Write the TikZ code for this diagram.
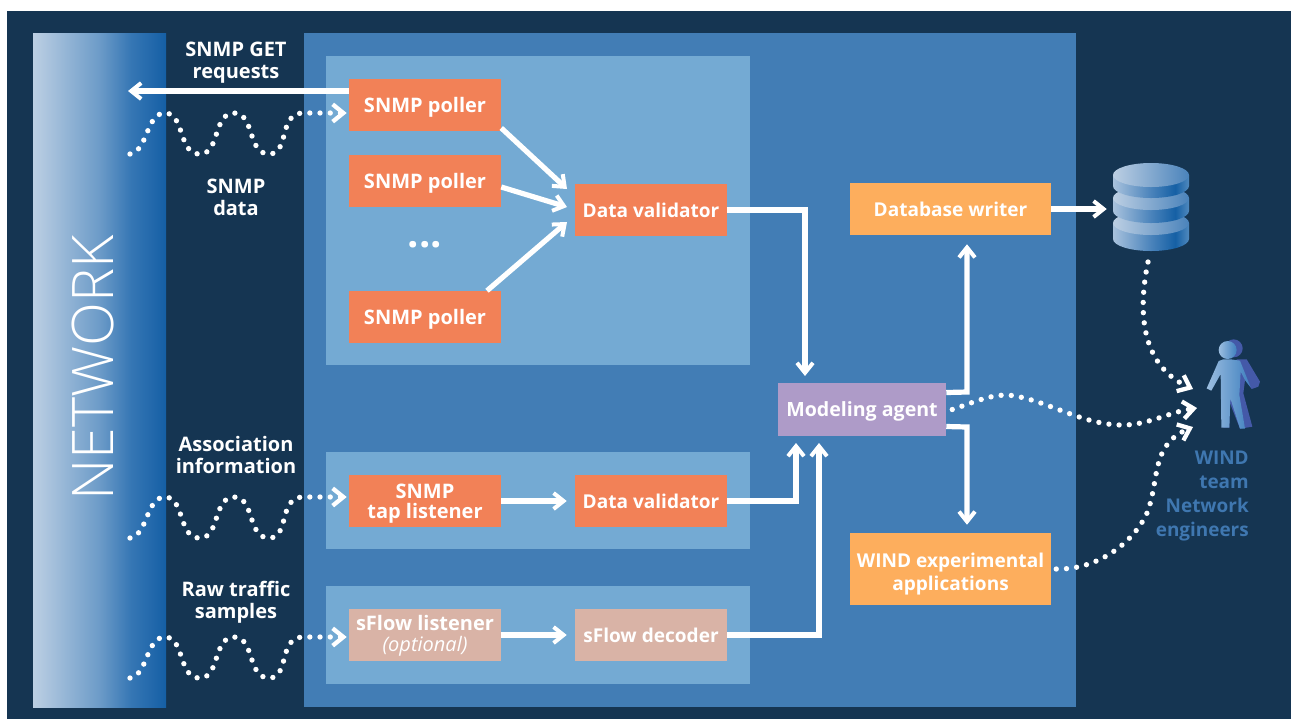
\documentclass[tikz,border=0pt]{standalone}
\usepackage{fontspec}
\setmainfont{Open Sans}
\newfontfamily\lightfont{Open Sans Light}
\usetikzlibrary{arrows.meta,calc}
\definecolor{bgdark}{HTML}{153552}
\definecolor{midblue}{HTML}{427DB5}
\definecolor{lightblue}{HTML}{74AAD3}
\definecolor{orangebox}{HTML}{F28157}
\definecolor{tanbox}{HTML}{D9B3A6}
\definecolor{purplebox}{HTML}{AE9BC8}
\definecolor{goldbox}{HTML}{FDAE5D}
\definecolor{wtext}{HTML}{3F77B0}
\definecolor{figshadow}{HTML}{4459A8}
\definecolor{netA}{HTML}{BCCFE3}
\definecolor{netB}{HTML}{6C9BC8}
\definecolor{netC}{HTML}{3576B4}
\definecolor{netD}{HTML}{155FA5}
\definecolor{dbA}{HTML}{A8C2DD}
\definecolor{dbB}{HTML}{4A83BB}
\definecolor{dbC}{HTML}{1560A5}
\definecolor{dbD}{HTML}{5089BE}
\definecolor{figA}{HTML}{9CBEE0}
\definecolor{figB}{HTML}{3F80BF}
\pgfdeclarehorizontalshading{netshade}{100bp}{color(0bp)=(netA);color(25bp)=(netA);color(50bp)=(netB);color(62bp)=(netC);color(75bp)=(netD);color(100bp)=(netD)}
\pgfdeclarehorizontalshading{dbside}{100bp}{color(0bp)=(dbA);color(25bp)=(dbA);color(50bp)=(dbB);color(66bp)=(dbC);color(75bp)=(dbD);color(100bp)=(dbD)}
\pgfdeclarehorizontalshading{dbtop}{100bp}{color(0bp)=(netA);color(25bp)=(netA);color(75bp)=(dbB);color(100bp)=(dbB)}
\pgfdeclarehorizontalshading{figshade}{100bp}{color(0bp)=(figA);color(25bp)=(figA);color(75bp)=(figB);color(100bp)=(figB)}
\tikzset{
  flowbox/.style={inner sep=0pt,minimum height=39pt,minimum width=114pt,align=center,
     text=white,font=\fontsize{15}{16.5}\selectfont\bfseries,text height=13pt,text depth=1.6pt},
  narrowtext/.style={font=\fontsize{14.3}{16.5}\selectfont\bfseries},
  pollerbox/.style={flowbox,fill=orangebox},
  tanflow/.style={flowbox,fill=tanbox},
  goldflow/.style={flowbox,fill=goldbox,minimum width=150.75pt},
  sidelabel/.style={text=white,align=center,font=\fontsize{15}{16.5}\selectfont\bfseries,inner sep=0pt},
  flowline/.style={draw=white,line width=3.9pt,-{Straight Barb[length=7.5pt,width=12pt,line width=3pt]}},
  dotline/.style={draw=white,line width=4pt,line cap=round,dash pattern=on 0pt off 7.65pt,
     -{Straight Barb[length=8pt,width=13pt,line width=3.2pt]}},
}
\newcommand{\wavepath}[2]{% #1 y offset, #2 target node
  \begin{scope}[yshift=-#1*0.75pt]
    \coordinate (wstart) at (130,154);
    \coordinate (wend) at (303,113);
  \end{scope}
  \draw[dotline,shorten >=1.5pt] (wstart)
    .. controls ($(wstart)+(18,-3)$) and ($(wstart)+(16,-41)$) .. ($(wstart)+(35,-41)$)
    .. controls ($(wstart)+(55,-41)$) and ($(wstart)+(48,1)$) .. ($(wstart)+(70,0)$)
    .. controls ($(wstart)+(90,0)$) and ($(wstart)+(83,-41)$) .. ($(wstart)+(104,-41)$)
    .. controls ($(wstart)+(125,-41)$) and ($(wstart)+(117,0)$) .. ($(wstart)+(139,0)$)
    .. controls ($(wstart)+(160,0)$) and ($(wstart)+(148,-41)$) .. (wend)
    -- (wend -| #2.west);
}
\begin{document}
\begin{tikzpicture}[x=0.75pt,y=-0.75pt]
\useasboundingbox (0,0) rectangle (1291,719);
\fill[white] (0,0) rectangle (1291,719);
\fill[bgdark] (7,11) rectangle (1291,719);
\shade[shading=netshade] (33,33) rectangle (166,707);
\fill[midblue] (304,33) rectangle (1076,707);
\fill[lightblue] (326,56) rectangle (750,365);
\fill[lightblue] (326,452) rectangle (750,549);
\fill[lightblue] (326,586) rectangle (750,684);

\node[rotate=90,text=white,inner sep=0pt,font=\fontsize{43}{43}\selectfont\lightfont] (network) at (93,368) {NETWORK};

\node[pollerbox] (p1) at (425,105) {SNMP poller};
\node[pollerbox] (p2) at (425,181) {SNMP poller};
\node[pollerbox] (p3) at (425,317) {SNMP poller};
\node[text=white,inner sep=0pt,font=\fontsize{30}{30}\selectfont\bfseries] (dots) at (425,245) {...};
\node[pollerbox,narrowtext] (v1) at (651,210) {Data validator};
\node[pollerbox,text height=27pt,text depth=1.5pt] (tap) at (425,501) {SNMP\\[-2pt]tap listener};
\node[pollerbox,narrowtext] (v2) at (651,501) {Data validator};
\node[tanflow,text height=28.1pt,text depth=3.5pt] (sf) at (425,635) {sFlow listener\\[-0.5pt]{\mdseries\itshape\fontsize{15}{15}\selectfont (optional)}};
\node[tanflow,narrowtext] (sd) at (651,635) {sFlow decoder};
\node[flowbox,fill=purplebox,minimum width=126pt,minimum height=39.75pt,font=\fontsize{14.7}{16.5}\selectfont\bfseries,text height=12.5pt] (model) at (862,409.5) {Modeling agent};
\node[goldflow,narrowtext] (dbw) at (950.5,209) {Database writer};
\node[goldflow,narrowtext,minimum height=54pt,text height=32.7pt,text depth=1pt] (wex) at (950.5,569) {WIND experimental\\[0.75pt]applications};

\node[sidelabel] (l1) at (236,63) {SNMP GET\\requests};
\node[sidelabel] (l2) at (236,197.5) {SNMP\\data};
\node[sidelabel] (l3) at (236,455) {Association\\information};
\node[sidelabel] (l4) at (236,602) {Raw traffic\\samples};

% database
\node[minimum width=57pt,minimum height=66pt,inner sep=0pt] (db) at (1151,209) {};
\shade[shading=dbside] (1113,223) -- (1113,239) arc[start angle=180,end angle=0,x radius=38,y radius=12] -- (1189,223) -- cycle;
\shade[shading=dbtop] (1151,223) ellipse[x radius=38,y radius=12];
\shade[shading=dbside] (1113,198) -- (1113,211) arc[start angle=180,end angle=0,x radius=38,y radius=12] -- (1189,198) -- cycle;
\shade[shading=dbtop] (1151,198) ellipse[x radius=38,y radius=12];
\shade[shading=dbside] (1113,175) -- (1113,186) arc[start angle=180,end angle=0,x radius=38,y radius=12] -- (1189,175) -- cycle;
\shade[shading=dbtop] (1151,175) ellipse[x radius=38,y radius=12];

% person
\node[minimum width=46pt,minimum height=69pt,inner sep=0pt] (person) at (1231,384) {};
\begin{scope}[shift={(1190,330)},x=0.25pt,y=-0.25pt]
  \fill[figshadow] (131,55) circle[radius=27];
  \fill[figshadow] (140,88) -- (170,88) -- (210,155) -- (205,170) -- (185,177) -- (165,150) -- (160,190) -- (187,290) -- (150,296) -- (118,215) -- (118,293) -- (100,293) -- cycle;
  \shade[shading=figshade] (113,60) circle[radius=27];
  \shade[shading=figshade] (86,93) -- (100,88) -- (122,88) -- (150,92) -- (182,172) -- (165,150) -- (152,125) -- (148,195) -- (165,296) -- (150,296) -- (121,205) -- (118,293) -- (94,293) -- (92,132) -- (64,182) -- (50,175) -- cycle;
\end{scope}
\node[text=wtext,align=right,anchor=north east,inner sep=0pt,font=\fontsize{14.2}{18}\selectfont\bfseries] (wlabel) at (1249,451) {WIND\\team\\Network\\engineers};

% connectors
\draw[flowline] (p1.west |- 0,91) -- (128,91);
\wavepath{0}{p1}
\wavepath{384}{tap}
\wavepath{524}{sf}
\coordinate (t1) at (567,189);
\coordinate (t2) at (567,207);
\coordinate (t3) at (567,222);
\draw[flowline] ($(p1.east)+(0,23)$) -- (t1);
\draw[flowline] ($(p2.east)+(0,6)$) -- (t2);
\draw[flowline] ($(p3.north)+(62,0)$) -- (t3);
\draw[flowline] (v1.east) -- (805,210) -- (805,376);
\draw[flowline,shorten >=6pt] (tap) -- (v2);
\draw[flowline] (v2.east) -- (796,501) -- (796,443);
\draw[flowline,shorten >=6pt] (sf) -- (sd);
\draw[flowline] (sd.east) -- (819,635) -- (819,443);
\draw[flowline,shorten >=6.75pt] ($(model.east)+(0,-17)$) -- (967,392) -- (dbw.south -| 967,0);
\draw[flowline,shorten >=6pt] ($(model.east)+(0,17)$) -- (967,427) -- (wex.north -| 967,0);
\draw[flowline,shorten >=4.5pt] (dbw.east) -- (db.west);
\coordinate (g1) at (1193,389);
\coordinate (g2) at (1197,408);
\coordinate (g3) at (1193,427);
\draw[dotline] (1148,262) .. controls (1138,310) and (1140,365) .. (g1);
\draw[dotline] ($(model.east)+(6,0)$) .. controls (975,402) and (995,392) .. (1015,396)
   .. controls (1050,402) and (1085,426) .. (1125,425) .. controls (1150,424) and (1170,412) .. (g2);
\draw[dotline] ($(wex.east)+(5,0)$) .. controls (1100,570) and (1135,540) .. (1147,513)
   .. controls (1160,480) and (1150,445) .. (g3);
\end{tikzpicture}
\end{document}
